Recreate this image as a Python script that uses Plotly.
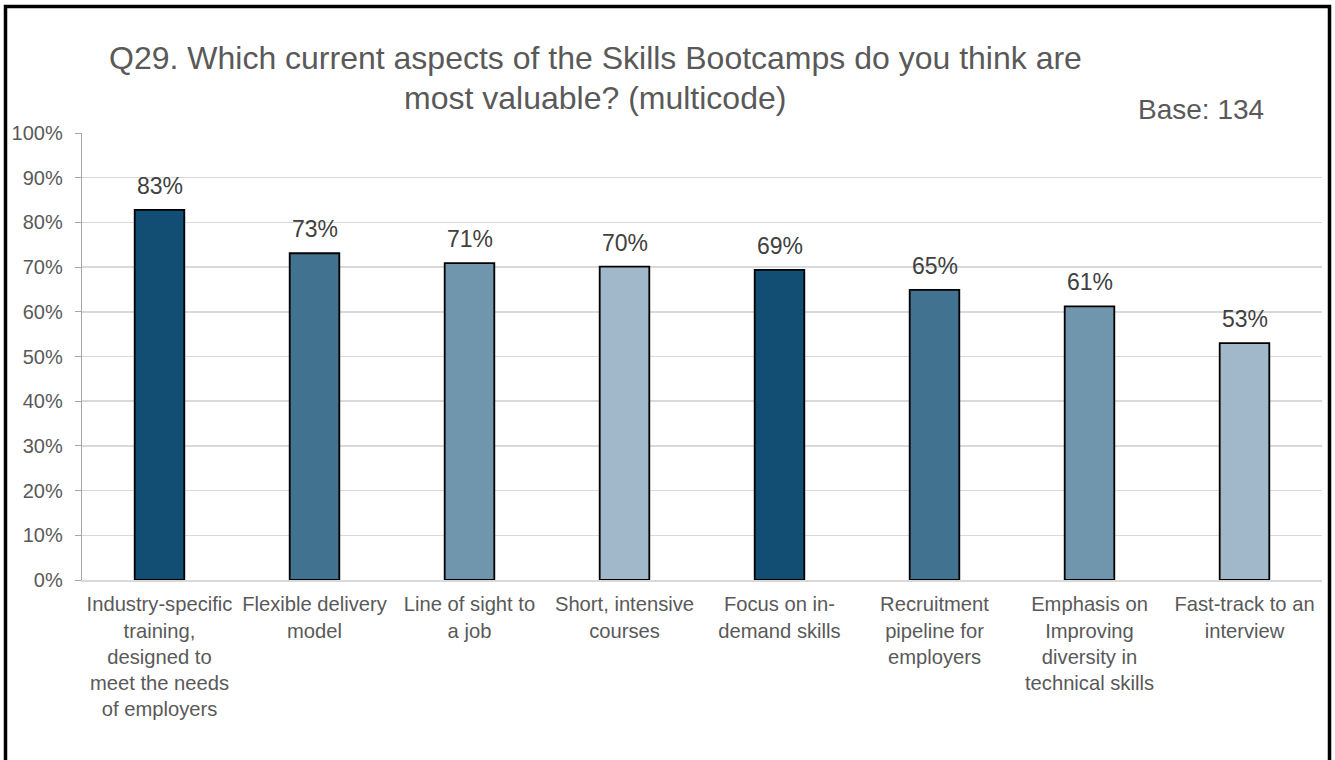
import plotly.graph_objects as go

categories = [
    "Industry-specific<br>training,<br>designed to<br>meet the needs<br>of employers",
    "Flexible delivery<br>model",
    "Line of sight to<br>a job",
    "Short, intensive<br>courses",
    "Focus on in-<br>demand skills",
    "Recruitment<br>pipeline for<br>employers",
    "Emphasis on<br>Improving<br>diversity in<br>technical skills",
    "Fast-track to an<br>interview",
]
values = [82.8, 73.1, 70.9, 70.1, 69.4, 64.9, 61.2, 53.0]
bar_colors = ["#124E73", "#41728F", "#7096AE", "#A0B8C9",
              "#124E73", "#41728F", "#7096AE", "#A0B8C9"]
title_lines = ["Q29. Which current aspects of the Skills Bootcamps do you think are",
               "most valuable? (multicode)"]
base_text = "Base: 134"

FONT = "Liberation Sans, Arial, sans-serif"

fig = go.Figure()
fig.add_trace(go.Bar(
    x=list(range(len(categories))),
    y=values,
    width=0.32,
    marker=dict(color=bar_colors, line=dict(color="#000000", width=1.8)),
    hoverinfo="skip",
))

annotations = []
for i, v in enumerate(values):
    annotations.append(dict(
        x=i, y=v, xref="x", yref="y", text=f"{round(v)}%", showarrow=False,
        yanchor="bottom", yshift=9,
        font=dict(family=FONT, size=23, color="#404040"),
    ))

L, R, T, B = 82, 13, 133, 180
W, H = 1335, 760
pw, ph = W - L - R, H - T - B

def px_x(p):
    return (p - L) / pw

def px_y(p):
    return (H - B - p) / ph

annotations.append(dict(x=px_x(595), y=px_y(58), xref="paper", yref="paper",
                        text=title_lines[0], showarrow=False, xanchor="center", yanchor="middle",
                        font=dict(family=FONT, size=32, color="#595959")))
annotations.append(dict(x=px_x(595), y=px_y(98), xref="paper", yref="paper",
                        text=title_lines[1], showarrow=False, xanchor="center", yanchor="middle",
                        font=dict(family=FONT, size=32, color="#595959")))
annotations.append(dict(x=px_x(1266), y=px_y(109), xref="paper", yref="paper",
                        text=base_text, showarrow=False, xanchor="right", yanchor="middle",
                        font=dict(family=FONT, size=28, color="#595959")))

shapes = [
    dict(type="rect", xref="paper", yref="paper",
         x0=px_x(5.5), x1=px_x(1329.5), y0=px_y(6.5), y1=px_y(820),
         line=dict(color="#000000", width=3.5), fillcolor="rgba(0,0,0,0)", layer="above"),
]

fig.update_layout(
    width=W, height=H,
    margin=dict(l=L, r=R, t=T, b=B, autoexpand=False),
    paper_bgcolor="#FFFFFF", plot_bgcolor="#FFFFFF",
    showlegend=False,
    bargap=0.68,
    annotations=annotations,
    shapes=shapes,
    font=dict(family=FONT, color="#595959"),
    xaxis=dict(
        tickmode="array", tickvals=list(range(len(categories))), ticktext=categories,
        range=[-0.5, len(categories) - 0.5],
        showgrid=False, zeroline=False,
        showline=True, linecolor="#D9D9D9", linewidth=2,
        ticks="", tickangle=0,
        tickfont=dict(family=FONT, size=20.2, color="#595959"),
        ticklabelstandoff=5,
    ),
    yaxis=dict(
        range=[0, 100], dtick=10, ticksuffix="%",
        showgrid=True, gridcolor="#D9D9D9", gridwidth=1.5,
        zeroline=False,
        showline=True, linecolor="#A6A6A6", linewidth=1.3,
        ticks="outside", ticklen=6, tickcolor="#A6A6A6",
        tickfont=dict(family=FONT, size=20, color="#595959"),
        ticklabelstandoff=8,
    ),
)

fig.write_html("out.html",
               config={"displayModeBar": False, "staticPlot": True},
               post_script="document.body.style.margin='0px';document.body.style.overflow='hidden';")
